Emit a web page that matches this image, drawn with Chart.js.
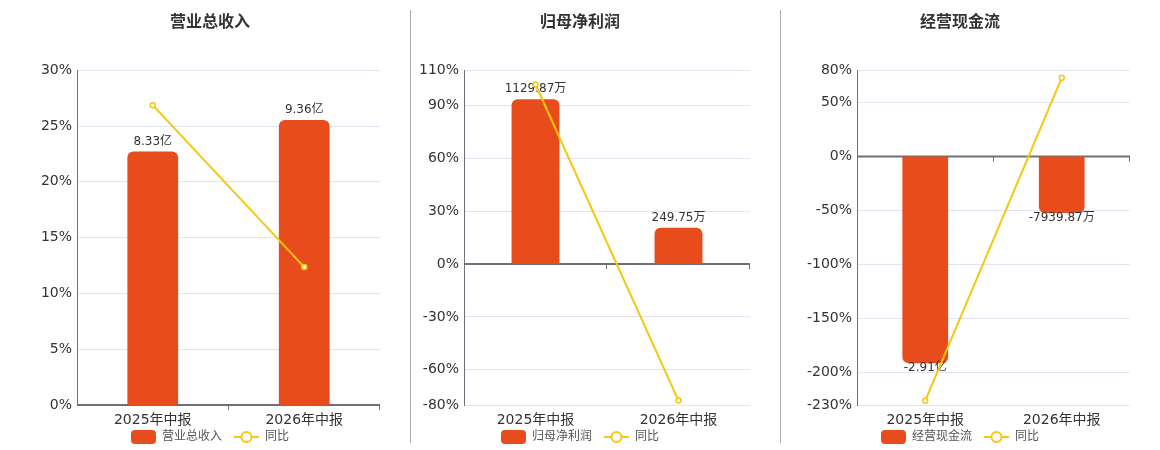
<!DOCTYPE html>
<html>
<head>
<meta charset="utf-8">
<script src="https://cdn.jsdelivr.net/npm/chart.js@4.4.1/dist/chart.umd.min.js"></script>
<style>
  body { margin: 0; background: #fff; overflow: hidden; }
  #wrap { position: relative; width: 1160px; height: 450px; }
  .box { position: absolute; top: 0; height: 450px; }
  .sep { position: absolute; top: 10px; height: 433px; width: 1px; background: #aaa; }
</style>
</head>
<body>
<div id="wrap">
  <div class="box" style="left:25px;width:370px"><canvas id="revenueChart"></canvas></div>
  <div class="box" style="left:400px;width:360px"><canvas id="profitChart"></canvas></div>
  <div class="box" style="left:780px;width:360px"><canvas id="cashChart"></canvas></div>
  <div class="sep" style="left:410px"></div>
  <div class="sep" style="left:780px"></div>
</div>
<script>
// shared data
const periods = ['2025年中报', '2026年中报'];

// values in 万元
const revenueValues = [83300, 93600];
const revenueGrowth = [26.87, 12.36];
const revenueTicks = [0, 5, 10, 15, 20, 25, 30];

const profitValues = [1129.87, 249.75];
const profitGrowth = [101.9, -77.5];
const profitTicks = [-80, -60, -30, 0, 30, 60, 90, 110];

const cashValues = [-29100, -7939.87];
const cashGrowth = [-226, 72.9];
const cashTicks = [-230, -200, -150, -100, -50, 0, 50, 80];

const BAR_COLOR = '#e84c1d';
const LINE_COLOR = '#f5c70f';
const AXIS_COLOR = '#6e7079';
const FONT = "'DejaVu Sans', 'Noto Sans CJK SC', sans-serif";

function formatWan(v) {
    if (Math.abs(v) >= 10000) return (v / 10000).toFixed(2) + '亿';
    return v.toFixed(2) + '万';
}

// zero line with category ticks, drawn before datasets
const zeroAxis = {
    id: 'zeroAxis',
    beforeDatasetsDraw(chart) {
        const {ctx, chartArea} = chart;
        const y0 = chart.scales.y.getPixelForValue(0);
        const n = chart.data.labels.length;
        const step = (chartArea.right - chartArea.left) / n;
        ctx.save();
        ctx.strokeStyle = AXIS_COLOR;
        ctx.lineWidth = 2;
        ctx.beginPath();
        ctx.moveTo(chartArea.left, y0);
        ctx.lineTo(chartArea.right, y0);
        ctx.stroke();
        ctx.lineWidth = 1;
        ctx.beginPath();
        for (let i = 1; i <= n; i++) {
            const x = Math.round(chartArea.left + i * step) - 0.5;
            ctx.moveTo(x, y0);
            ctx.lineTo(x, y0 + 5);
        }
        ctx.stroke();
        ctx.restore();
    }
};

// value labels on bars, drawn right after the bar dataset
const barLabels = {
    id: 'barLabels',
    afterDatasetDraw(chart, args) {
        if (args.index !== 0) return;
        const {ctx} = chart;
        const values = chart.data.datasets[0].data;
        ctx.save();
        ctx.font = '12px ' + FONT;
        ctx.fillStyle = '#333';
        ctx.textAlign = 'center';
        args.meta.data.forEach((bar, i) => {
            const v = values[i];
            if (v >= 0) {
                ctx.textBaseline = 'bottom';
                ctx.fillText(formatWan(v), bar.x, bar.y - 4);
            } else {
                ctx.textBaseline = 'top';
                ctx.fillText(formatWan(v), bar.x, bar.y - 1);
            }
        });
        ctx.restore();
    }
};

// legend under the axis labels: rounded box for the bars, line + ring for growth
const bottomLegend = {
    id: 'bottomLegend',
    afterDraw(chart) {
        const {ctx} = chart;
        const names = chart.data.datasets.map(d => d.label);
        const iconW = 25, gapText = 6, gapItem = 12;
        ctx.save();
        ctx.font = '12px ' + FONT;
        const widths = names.map(t => ctx.measureText(t).width);
        const total = widths.reduce((a, w) => a + iconW + gapText + w, 0) + gapItem * (names.length - 1);
        let x = chart.width / 2 - total / 2;
        const y = chart.scales.x.top + 32;
        names.forEach((name, i) => {
            if (i === 0) {
                ctx.fillStyle = BAR_COLOR;
                ctx.beginPath();
                ctx.roundRect(x, y - 7, iconW, 14, 4);
                ctx.fill();
            } else {
                ctx.strokeStyle = LINE_COLOR;
                ctx.lineWidth = 2;
                ctx.beginPath();
                ctx.moveTo(x, y);
                ctx.lineTo(x + iconW, y);
                ctx.stroke();
                ctx.fillStyle = '#fff';
                ctx.beginPath();
                ctx.arc(x + iconW / 2, y, 5, 0, Math.PI * 2);
                ctx.fill();
                ctx.stroke();
            }
            ctx.fillStyle = '#555';
            ctx.textAlign = 'left';
            ctx.textBaseline = 'middle';
            ctx.fillText(name, x + iconW + gapText, y);
            x += iconW + gapText + widths[i] + gapItem;
        });
        ctx.restore();
    }
};

function buildChart(canvasId, title, barName, values, growth, ticks, barRange, axisWidth, sidePad) {
    return new Chart(document.getElementById(canvasId), {
        type: 'bar',
        data: {
            labels: periods,
            datasets: [{
                type: 'bar',
                label: barName,
                data: values,
                yAxisID: 'y2',
                backgroundColor: BAR_COLOR,
                borderRadius: 6,
                borderSkipped: 'start',
                barPercentage: 0.335,
                categoryPercentage: 1,
                order: 1
            }, {
                type: 'line',
                label: '同比',
                data: growth,
                yAxisID: 'y',
                borderColor: LINE_COLOR,
                borderWidth: 2,
                pointRadius: 2.5,
                pointBorderWidth: 1.5,
                pointBackgroundColor: '#fff',
                pointBorderColor: LINE_COLOR,
                tension: 0,
                order: 0
            }]
        },
        options: {
            responsive: false,
            animation: false,
            layout: { padding: { left: sidePad, right: sidePad } },
            plugins: {
                title: {
                    display: true,
                    text: title,
                    color: '#333',
                    font: { family: FONT, size: 16, weight: 'bold' },
                    padding: { top: 13, bottom: 38 }
                },
                legend: { display: false },
                tooltip: { enabled: false }
            },
            scales: {
                x: {
                    grid: { display: false, drawTicks: false },
                    border: { display: false },
                    ticks: { color: '#333', padding: 7, font: { family: FONT, size: 14 } },
                    afterFit: s => { s.height = 45; }
                },
                y: {
                    position: 'left',
                    min: ticks[0],
                    max: ticks[ticks.length - 1],
                    afterBuildTicks: s => { s.ticks = ticks.map(v => ({ value: v })); },
                    afterFit: s => { s.width = axisWidth; },
                    grid: { color: '#e0e6f1', drawTicks: false },
                    border: { display: true, color: AXIS_COLOR, width: 1 },
                    ticks: {
                        color: '#333',
                        padding: 5,
                        font: { family: FONT, size: 14 },
                        callback: v => v + '%'
                    }
                },
                y2: {
                    display: false,
                    min: barRange[0],
                    max: barRange[1]
                }
            }
        },
        plugins: [zeroAxis, barLabels, bottomLegend]
    });
}

function sizeCanvas(id, w) {
    const c = document.getElementById(id);
    c.width = w; c.height = 450;
    c.style.width = w + 'px'; c.style.height = '450px';
}
sizeCanvas('revenueChart', 370);
sizeCanvas('profitChart', 360);
sizeCanvas('cashChart', 360);

buildChart('revenueChart', '营业总收入', '营业总收入', revenueValues, revenueGrowth, revenueTicks, [0, 110000], 37, 15);
buildChart('profitChart', '归母净利润', '归母净利润', profitValues, profitGrowth, profitTicks, [-967.3, 1330], 54, 10);
buildChart('cashChart', '经营现金流', '经营现金流', cashValues, cashGrowth, cashTicks, [-35000, 12174], 67, 10);
</script>
</body>
</html>
